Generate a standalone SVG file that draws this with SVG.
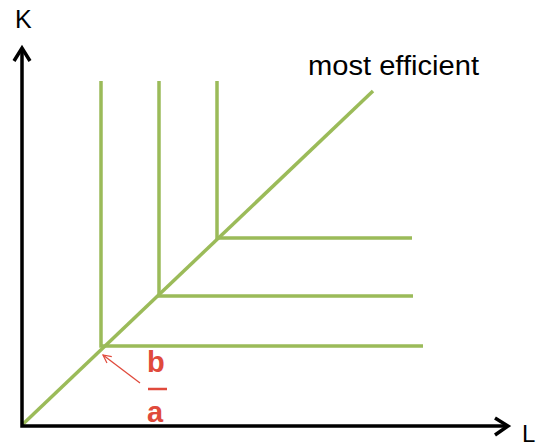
<svg xmlns="http://www.w3.org/2000/svg" width="537" height="446" viewBox="0 0 537 446">
<style>
.axis{stroke:#000;stroke-width:3.5;fill:none}
.iso{stroke:#9BBB59;stroke-width:3.5;fill:none}
.lbl{font-family:"Liberation Sans",Arial,sans-serif;fill:#000}
.red{font-family:"Liberation Sans",Arial,sans-serif;fill:#E04A3C;font-weight:bold}
</style>
<defs>
<marker id="ra" markerWidth="10" markerHeight="10" refX="9" refY="5" orient="auto" markerUnits="userSpaceOnUse">
<path d="M1,1 L9,5 L1,9" fill="none" stroke="#E04A3C" stroke-width="1.2"/>
</marker>
</defs>
<rect width="537" height="446" fill="#fff"/>
<g id="connectors">
<line class="iso" x1="22" y1="425" x2="373" y2="91"/>
<polyline class="iso" points="101,81 101,346 423,346"/>
<polyline class="iso" points="159,81 159,296 413,296"/>
<polyline class="iso" points="217,81 217,238 412,238"/>
<line x1="140" y1="383" x2="103" y2="355" stroke="#E04A3C" stroke-width="1.3" marker-end="url(#ra)"/>
</g>
<g id="axes">
<polyline class="axis" points="22,48 22,426 507,426"/>
<polyline class="axis" points="14,61 22,48 30,61"/>
<polyline class="axis" points="495,418 508,426 495,435"/>
</g>
<g id="labels">
<text class="lbl" x="15" y="28" font-size="25">K</text>
<text class="lbl" x="522" y="442" font-size="24">L</text>
<text class="lbl" x="308" y="75" font-size="27" textLength="171" lengthAdjust="spacingAndGlyphs">most efficient</text>
<text class="red" x="147" y="372" font-size="29">b</text>
<line x1="148" y1="389" x2="167" y2="389" stroke="#E04A3C" stroke-width="2.5"/>
<text class="red" x="147" y="422" font-size="29">a</text>
</g>
</svg>
